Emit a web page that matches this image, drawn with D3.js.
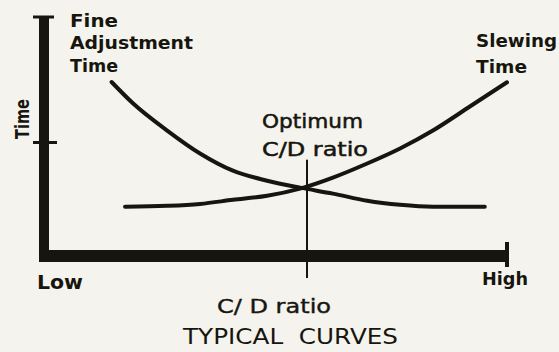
<!DOCTYPE html>
<html>
<head>
<meta charset="utf-8">
<script src="https://cdn.jsdelivr.net/npm/d3@7"></script>
<style>
  html, body { margin: 0; padding: 0; background: #f4f3ed; }
  svg { display: block; }
  text { fill: #16160f; font-family: "DejaVu Sans", sans-serif; }
</style>
</head>
<body>
<div id="chart"></div>
<script>
// C/D ratio runs Low -> High (0..10), time in arbitrary units (0..10)
const fineX = [1.46, 1.92, 2.66, 3.37, 4.08, 4.82, 5.53, 6.24, 6.98, 7.69, 8.40, 9.52];
const fineY = [7.28, 6.39, 5.25, 4.29, 3.57, 3.15, 2.86, 2.61, 2.31, 2.14, 2.06, 2.06];
const slewX = [1.75, 2.66, 3.37, 4.08, 4.82, 5.53, 6.24, 6.98, 7.69, 8.40, 9.14, 10.0];
const slewY = [2.06, 2.10, 2.18, 2.35, 2.52, 2.82, 3.28, 3.87, 4.50, 5.25, 6.18, 7.27];
const optimumX = 5.68;
const timeMark = 4.75;
const xEnds = ['Low', 'High'];
const fineLabel = ['Fine', 'Adjustment', 'Time'];
const slewLabel = ['Slewing', 'Time'];
const optimumLabel = ['Optimum', 'C/D ratio'];

const width = 559, height = 352;
const ink = '#16160f';

const x = d3.scaleLinear().domain([0, 10]).range([44, 507]);
const y = d3.scaleLinear().domain([0, 10]).range([256, 17]);

const svg = d3.select('#chart').append('svg')
  .attr('width', width)
  .attr('height', height);

svg.append('rect').attr('width', width).attr('height', height).attr('fill', '#f4f3ed');

// axes: heavy L shaped frame with small caps
const axes = svg.append('g').attr('stroke', ink).attr('fill', 'none');
axes.append('line')
  .attr('x1', x(0)).attr('x2', x(0))
  .attr('y1', y(10)).attr('y2', y(0) + 6)
  .attr('stroke-width', 10);
axes.append('line')
  .attr('x1', x(0) - 5).attr('x2', x(10))
  .attr('y1', y(0)).attr('y2', y(0))
  .attr('stroke-width', 12);
// top cap of y axis
axes.append('line')
  .attr('x1', x(0) - 11).attr('x2', x(0) + 10)
  .attr('y1', y(10)).attr('y2', y(10))
  .attr('stroke-width', 3);
// end cap of x axis
axes.append('line')
  .attr('x1', x(10)).attr('x2', x(10))
  .attr('y1', y(0) - 14).attr('y2', y(0) + 11)
  .attr('stroke-width', 4);
// tick on the time axis
axes.append('line')
  .attr('x1', x(0) - 11).attr('x2', x(0) + 13)
  .attr('y1', y(timeMark)).attr('y2', y(timeMark))
  .attr('stroke-width', 3);
// optimum marker
axes.append('line')
  .attr('x1', x(optimumX)).attr('x2', x(optimumX))
  .attr('y1', y(4.03)).attr('y2', y(0) + 22)
  .attr('stroke-width', 2);

// curves
const line = d3.line()
  .x(d => x(d[0]))
  .y(d => y(d[1]))
  .curve(d3.curveMonotoneX);

const series = [
  fineX.map((v, i) => [v, fineY[i]]),
  slewX.map((v, i) => [v, slewY[i]])
];

svg.append('g').selectAll('path')
  .data(series)
  .enter().append('path')
  .attr('d', line)
  .attr('fill', 'none')
  .attr('stroke', ink)
  .attr('stroke-width', 4)
  .attr('stroke-linecap', 'round');

// labels
const addLines = (lines, xPos, baselines, widths, size, weight, outline) => {
  lines.forEach((t, i) => {
    svg.append('text')
      .attr('x', xPos)
      .attr('y', baselines[i])
      .attr('font-size', size)
      .attr('font-weight', weight)
      .attr('stroke', outline ? ink : null)
      .attr('stroke-width', outline ? 0.5 : null)
      .attr('textLength', widths[i])
      .attr('lengthAdjust', 'spacingAndGlyphs')
      .text(t);
  });
};

addLines(fineLabel, 70, [27, 49, 72], [48, 123, 48], 18, 'bold', false);
addLines(slewLabel, 476, [47, 73], [81, 51], 18, 'bold', false);
addLines(optimumLabel, 262, [128, 156], [101, 106], 19, 'normal', true);

svg.append('text')
  .attr('transform', 'translate(29,139) rotate(-90)')
  .attr('font-size', 20)
  .attr('font-weight', 'bold')
  .attr('textLength', 40)
  .attr('lengthAdjust', 'spacingAndGlyphs')
  .text('Time');

svg.append('text')
  .attr('x', 37).attr('y', 289)
  .attr('font-size', 19).attr('font-weight', 'bold')
  .attr('textLength', 46).attr('lengthAdjust', 'spacingAndGlyphs')
  .text(xEnds[0]);

svg.append('text')
  .attr('x', 482).attr('y', 285)
  .attr('font-size', 18).attr('font-weight', 'bold')
  .attr('textLength', 46).attr('lengthAdjust', 'spacingAndGlyphs')
  .text(xEnds[1]);

svg.append('text')
  .attr('x', 217).attr('y', 313)
  .attr('font-size', 20)
  .attr('stroke', ink).attr('stroke-width', 0.4)
  .attr('textLength', 114).attr('lengthAdjust', 'spacingAndGlyphs')
  .text('C/ D ratio');

svg.append('text')
  .attr('x', 183).attr('y', 344)
  .attr('font-size', 22)
  .attr('textLength', 215).attr('lengthAdjust', 'spacingAndGlyphs')
  .style('white-space', 'pre')
  .text('TYPICAL  CURVES');
</script>
</body>
</html>
